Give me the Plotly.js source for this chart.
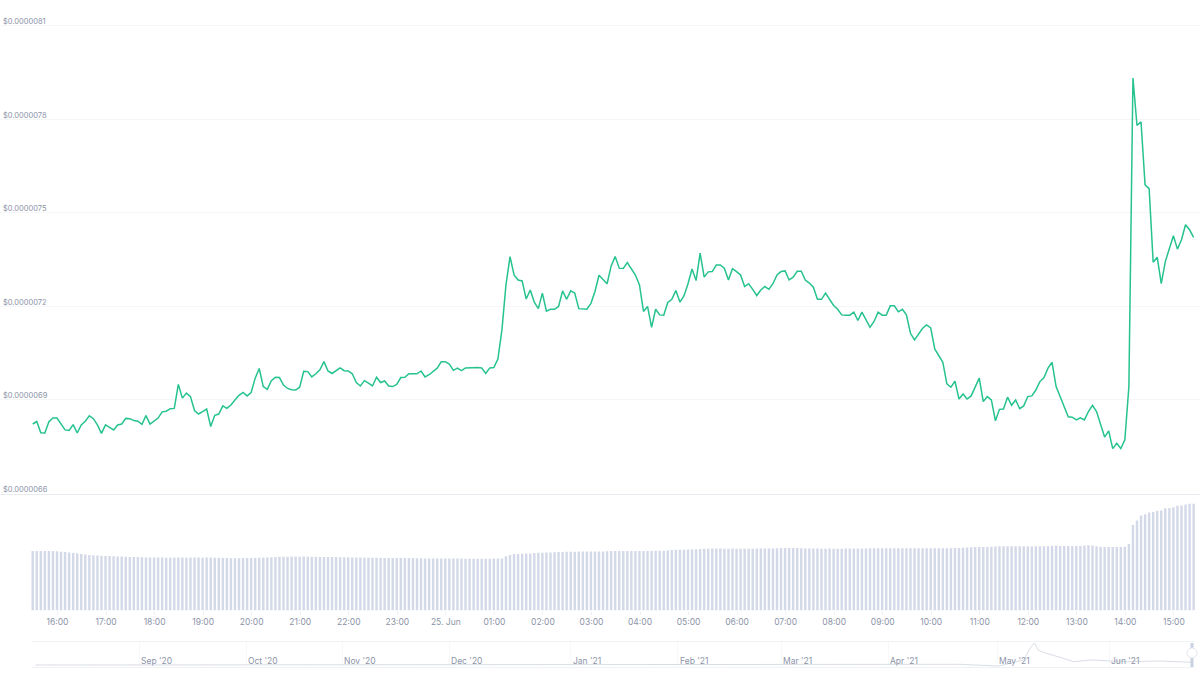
<!DOCTYPE html>
<html>
<head>
<meta charset="utf-8">
<script src="https://cdn.plot.ly/plotly-3.0.1.min.js"></script>
<style>
html, body { margin: 0; padding: 0; background: #fff; }
</style>
</head>
<body>
<div id="chart" style="width:1200px;height:675px"></div>
<script>
// price, in units of 1e-7 dollars, one point every 5 minutes
const priceValues = [
    68.23, 68.31, 67.95, 67.94, 68.30, 68.42, 68.42, 68.23, 68.04, 68.02, 68.21, 67.94,
    68.20, 68.32, 68.49, 68.40, 68.20, 67.93, 68.20, 68.12, 68.04, 68.20, 68.23, 68.41,
    68.40, 68.34, 68.32, 68.22, 68.50, 68.23, 68.32, 68.42, 68.62, 68.64, 68.72, 68.73,
    69.50, 69.06, 69.22, 69.11, 68.66, 68.55, 68.63, 68.71, 68.15, 68.51, 68.55, 68.81,
    68.73, 68.84, 69.00, 69.15, 69.24, 69.13, 69.24, 69.70, 70.01, 69.43, 69.34, 69.62,
    69.73, 69.72, 69.48, 69.37, 69.33, 69.32, 69.41, 69.92, 69.91, 69.74, 69.84, 69.97,
    70.23, 69.93, 69.85, 69.93, 70.03, 69.94, 69.93, 69.84, 69.56, 69.45, 69.62, 69.54,
    69.45, 69.73, 69.56, 69.61, 69.45, 69.43, 69.50, 69.72, 69.73, 69.84, 69.84, 69.84,
    69.93, 69.74, 69.81, 69.91, 70.02, 70.23, 70.23, 70.15, 69.95, 70.02, 69.94, 70.03,
    70.04, 70.04, 70.04, 70.03, 69.85, 70.03, 70.04, 70.31, 71.25, 72.69, 73.60, 73.01,
    72.85, 72.82, 72.24, 72.53, 72.14, 71.93, 72.43, 71.85, 71.91, 71.91, 72.00, 72.50,
    72.23, 72.50, 72.43, 71.93, 71.91, 71.91, 72.10, 72.48, 73.00, 72.85, 72.73, 73.30,
    73.60, 73.23, 73.22, 73.41, 73.23, 73.01, 72.69, 71.84, 72.00, 71.33, 71.91, 71.73,
    71.72, 72.13, 72.23, 72.51, 72.14, 72.34, 72.73, 73.20, 72.83, 73.71, 72.94, 73.11,
    73.12, 73.33, 73.33, 73.22, 72.85, 73.21, 73.12, 73.01, 72.64, 72.73, 72.55, 72.35,
    72.53, 72.64, 72.55, 72.73, 73.01, 73.12, 73.14, 72.85, 72.94, 73.13, 73.13, 72.85,
    72.75, 72.62, 72.23, 72.23, 72.43, 72.23, 72.03, 71.91, 71.73, 71.72, 71.72, 71.82,
    71.55, 71.82, 71.55, 71.33, 71.52, 71.82, 71.72, 71.72, 72.02, 72.02, 71.83, 71.91,
    71.73, 71.14, 70.93, 71.12, 71.30, 71.41, 71.31, 70.64, 70.42, 70.21, 69.52, 69.41,
    69.60, 69.03, 69.19, 69.03, 69.13, 69.41, 69.70, 68.95, 69.11, 69.00, 68.33, 68.70,
    68.71, 69.09, 68.83, 69.00, 68.72, 68.81, 69.11, 69.13, 69.32, 69.59, 69.72, 70.02,
    70.21, 69.43, 69.11, 68.81, 68.46, 68.45, 68.36, 68.43, 68.36, 68.63, 68.83, 68.63,
    68.25, 67.81, 68.01, 67.44, 67.61, 67.44, 67.72, 69.43, 79.33, 77.81, 77.92, 75.90,
    75.78, 73.42, 73.58, 72.73, 73.44, 73.82, 74.27, 73.84, 74.14, 74.62, 74.46, 74.22
];

// volume bars, relative units (no scale is shown in the picture)
const volumeValues = [
    59.4, 59.5, 59.5, 59.4, 59.5, 59.5, 59.3, 58.8, 58.4, 58.0, 57.5, 57.2,
    56.6, 55.9, 55.5, 55.2, 55.0, 54.7, 54.6, 54.4, 54.3, 54.0, 53.9, 53.8,
    53.6, 53.5, 53.4, 53.2, 53.1, 53.0, 52.9, 53.0, 52.9, 52.8, 52.8, 52.9,
    53.0, 52.9, 52.8, 53.0, 53.0, 52.9, 52.8, 52.9, 52.9, 52.8, 52.7, 52.6,
    52.4, 52.3, 52.2, 52.3, 52.4, 52.6, 52.6, 52.7, 52.8, 53.0, 53.1, 53.3,
    53.5, 53.7, 53.8, 53.8, 53.9, 53.9, 53.8, 53.9, 53.8, 53.8, 53.7, 53.6,
    53.6, 53.5, 53.5, 53.4, 53.3, 53.3, 53.2, 53.1, 53.1, 52.9, 52.8, 52.7,
    52.7, 52.7, 52.6, 52.6, 52.6, 52.5, 52.5, 52.4, 52.4, 52.4, 52.3, 52.3,
    52.2, 52.1, 52.1, 52.0, 52.0, 52.0, 52.0, 51.9, 51.9, 51.9, 51.9, 51.8,
    51.8, 51.8, 51.8, 51.8, 51.8, 51.8, 51.9, 51.9, 52.0, 54.2, 55.5, 56.4,
    56.6, 56.7, 56.9, 57.1, 57.4, 57.7, 57.8, 57.9, 58.0, 58.2, 58.4, 58.6,
    58.7, 58.8, 58.8, 58.9, 58.9, 58.9, 59.0, 59.0, 59.1, 59.1, 59.3, 59.4,
    59.5, 59.5, 59.5, 59.5, 59.5, 59.5, 59.6, 59.6, 59.6, 59.7, 59.7, 59.7,
    59.8, 60.2, 60.5, 60.7, 60.8, 60.8, 60.9, 61.0, 61.3, 61.6, 61.8, 61.8,
    61.9, 61.9, 61.9, 61.8, 61.8, 61.9, 61.8, 61.8, 61.7, 61.8, 61.8, 61.9,
    61.9, 61.9, 62.0, 62.1, 62.3, 62.4, 62.5, 62.5, 62.5, 62.4, 62.2, 62.0,
    61.9, 61.9, 61.9, 61.8, 61.8, 61.9, 61.8, 61.8, 61.8, 61.9, 61.9, 61.9,
    61.9, 62.0, 62.1, 62.2, 62.2, 62.2, 62.2, 62.2, 62.2, 62.2, 62.2, 62.3,
    62.3, 62.2, 62.2, 62.2, 62.2, 62.2, 62.3, 62.2, 62.2, 62.2, 62.3, 62.3,
    62.4, 62.5, 62.7, 62.9, 63.2, 63.5, 63.4, 63.5, 63.6, 63.7, 63.9, 64.2,
    64.3, 64.2, 64.2, 64.2, 64.3, 64.2, 64.2, 64.1, 64.2, 64.3, 64.2, 64.3,
    64.8, 64.9, 64.6, 64.4, 64.4, 64.3, 64.4, 64.5, 65.0, 65.2, 64.9, 64.3,
    63.7, 63.5, 63.5, 63.5, 63.5, 63.6, 63.7, 66.5, 85.5, 90.0, 95.0, 96.3,
    97.9, 98.5, 99.8, 100.0, 102.2, 102.5, 103.2, 104.8, 105.0, 106.0, 106.8, 106.8
];

const priceTicks = [66, 69, 72, 75, 78, 81];
const priceTickLabels = ["$0.0000066", "$0.0000069", "$0.0000072", "$0.0000075", "$0.0000078", "$0.0000081"];

const hourLabels = ["16:00", "17:00", "18:00", "19:00", "20:00", "21:00", "22:00", "23:00", "25. Jun",
    "01:00", "02:00", "03:00", "04:00", "05:00", "06:00", "07:00", "08:00", "09:00", "10:00",
    "11:00", "12:00", "13:00", "14:00", "15:00"];

// overview strip below the chart
const overviewDates = ["2020-08-03", "2020-09-01", "2020-10-01", "2020-11-01", "2020-12-01", "2021-01-01",
    "2021-02-01", "2021-03-01", "2021-04-01", "2021-04-19", "2021-04-30", "2021-05-07", "2021-05-09",
    "2021-05-10", "2021-05-11", "2021-05-13", "2021-05-16", "2021-05-18", "2021-05-21", "2021-05-26",
    "2021-06-05", "2021-06-14", "2021-06-23"];
const overviewValues = [2, 2, 2, 2, 2, 2, 2, 2, 2, 2.7, 1, 7, 20, 24, 17, 14, 11, 8.7, 5.3, 7, 5.3, 6, 4.7];
const monthLabels = ["Sep '20", "Oct '20", "Nov '20", "Dec '20", "Jan '21", "Feb '21", "Mar '21", "Apr '21", "May '21", "Jun '21"];
const monthDates = ["2020-09-01", "2020-10-01", "2020-10-28", "2020-11-27", "2020-12-31", "2021-01-30", "2021-02-28", "2021-03-30", "2021-04-29 12:00", "2021-05-31"];

const startTime = Date.UTC(2021, 5, 24, 15, 29, 20);
const times = priceValues.map((v, i) => new Date(startTime + i * 300000).toISOString());
const hourTicks = hourLabels.map((l, i) => new Date(Date.UTC(2021, 5, 24, 16 + i)).toISOString());
const xRange = ["2021-06-24 14:48:54", "2021-06-25 15:32:13"];

const labelColor = "#8c94a8";
const labelFont = {family: "Inter, sans-serif", size: 8.5, color: labelColor};
const priceFont = {family: "Inter, sans-serif", size: 7.5, color: labelColor};

const priceAnnotations = priceTickLabels.map((label, i) => ({
    text: label,
    x: 1 / 1200,
    xref: "paper",
    y: priceTicks[i],
    yref: "y",
    yshift: 4,
    xanchor: "left",
    yanchor: "middle",
    showarrow: false,
    font: priceFont
}));

const monthAnnotations = monthLabels.map((label, i) => ({
    text: label,
    x: monthDates[i],
    xref: "x3",
    y: 1 - 661 / 675,
    yref: "paper",
    xanchor: "left",
    yanchor: "middle",
    showarrow: false,
    font: labelFont
}));

const data = [{
    type: "scatter",
    mode: "lines",
    x: times,
    y: priceValues,
    xaxis: "x",
    yaxis: "y",
    line: {color: "#26c290", width: 1.5},
    hoverinfo: "skip"
}, {
    type: "bar",
    x: times,
    y: volumeValues,
    xaxis: "x2",
    yaxis: "y2",
    marker: {color: "#d3d9e8", line: {width: 0}},
    hoverinfo: "skip"
}, {
    type: "scatter",
    mode: "lines",
    x: overviewDates,
    y: overviewValues,
    xaxis: "x3",
    yaxis: "y3",
    line: {color: "#d9dde6", width: 1},
    hoverinfo: "skip"
}];

const layout = {
    width: 1200,
    height: 675,
    margin: {l: 0, r: 0, t: 0, b: 0},
    paper_bgcolor: "#fff",
    plot_bgcolor: "#fff",
    showlegend: false,
    bargap: 0.4,
    xaxis: {
        type: "date", range: xRange, domain: [0, 1], anchor: "y",
        showgrid: false, showticklabels: false, ticks: "", zeroline: false,
        showline: true, linecolor: "#e9ebf0", linewidth: 1
    },
    yaxis: {
        range: [66, 81.19], domain: [1 - 493.5 / 675, 1 - 20 / 675], anchor: "x",
        tickvals: priceTicks, showticklabels: false, ticks: "",
        gridcolor: "#f5f6f8", gridwidth: 1,
        zeroline: false, showline: false
    },
    xaxis2: {
        type: "date", range: xRange, domain: [0, 1], anchor: "y2",
        tickvals: hourTicks, ticktext: hourLabels, tickfont: labelFont,
        showgrid: false, zeroline: false, showline: false,
        ticks: "outside", ticklen: 3, tickcolor: "#eceef3", tickwidth: 1
    },
    yaxis2: {
        range: [0, 117], domain: [1 - 610.5 / 675, 1 - 493.5 / 675], anchor: "x2",
        showticklabels: false, showgrid: false, zeroline: false, ticks: ""
    },
    xaxis3: {
        type: "date", range: ["2020-08-02", "2021-06-24"], domain: [32 / 1200, 1195 / 1200], anchor: "y3",
        tickvals: monthDates, showticklabels: false, ticks: "",
        showgrid: true, gridcolor: "#f7f8fa", zeroline: false,
        showline: true, mirror: true, linecolor: "#f1f2f5", linewidth: 1
    },
    yaxis3: {
        range: [0, 25], domain: [1 - 667 / 675, 1 - 642 / 675], anchor: "x3",
        showticklabels: false, showgrid: false, zeroline: false, ticks: ""
    },
    annotations: priceAnnotations.concat(monthAnnotations),
    shapes: [
        // range handle at the right end of the overview strip
        {type: "rect", xref: "paper", yref: "paper", x0: 1190.5 / 1200, x1: 1193.5 / 1200, y0: 1 - 667 / 675, y1: 1 - 657 / 675, fillcolor: "#c8d0e2", line: {width: 0}},
        {type: "rect", xref: "paper", yref: "paper", x0: 1190.5 / 1200, x1: 1193.5 / 1200, y0: 1 - 649 / 675, y1: 1 - 643 / 675, fillcolor: "#c8d0e2", line: {width: 0}},
        {type: "circle", xref: "paper", yref: "paper", x0: 1187 / 1200, x1: 1197 / 1200, y0: 1 - 658 / 675, y1: 1 - 648 / 675, fillcolor: "#fff", line: {color: "#e4e7ef", width: 1}}
    ]
};

Plotly.newPlot("chart", data, layout, {displayModeBar: false, staticPlot: true});
</script>
</body>
</html>
